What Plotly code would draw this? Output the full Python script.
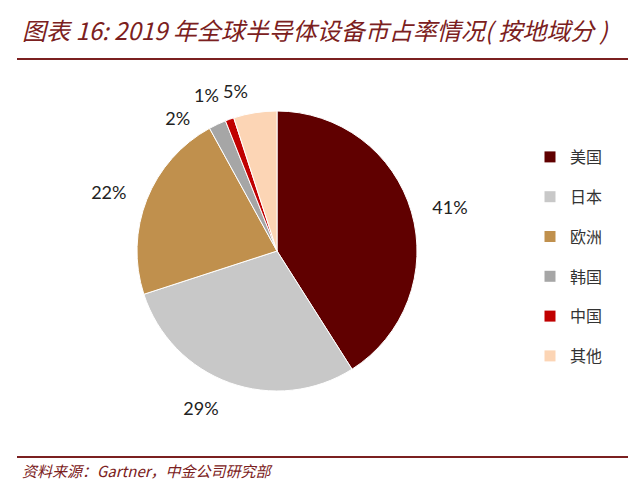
import plotly.graph_objects as go

regions = ["美国", "日本", "欧洲", "韩国", "中国", "其他"]
shares = [41, 29, 22, 2, 1, 5]
colors = ["#600000", "#c8c8c8", "#c0904d", "#a6a6a6", "#c00000", "#fcd5b5"]

title_text = "图表 16: 2019 年全球半导体设备市占率情况( 按地域分 )"
source_text = "资料来源：Gartner，中金公司研究部"
dark_red = "#7b2020"

# page body has an 8px margin, so the figure is drawn 8px smaller and shifted
W, H, OFF = 632, 475, 8


def px(x):
    return (x - OFF) / W


def py(y):
    return 1 - (y - OFF) / H


cx, cy, r = 277, 251, 140

# radius of the invisible pie carrying each label (keeps small labels apart)
label_radius = [156, 156, 156, 137, 155, 151]
label_pad = ["", "", "", "\u00a0" * 5, "", ""]

fig = go.Figure()

fig.add_trace(go.Pie(
    labels=regions,
    values=shares,
    sort=False,
    direction="clockwise",
    rotation=0,
    marker=dict(colors=colors, line=dict(color="white", width=1)),
    textinfo="none",
    domain=dict(x=[px(cx - r), px(cx + r)], y=[py(cy + r), py(cy - r)]),
    showlegend=False,
    hoverinfo="label+percent",
))

# transparent copies of the pie that only carry the percent labels
for rl in sorted(set(label_radius)):
    fig.add_trace(go.Pie(
        labels=regions,
        values=shares,
        sort=False,
        direction="clockwise",
        rotation=0,
        marker=dict(colors=["rgba(0,0,0,0)"] * len(regions), line=dict(width=0)),
        texttemplate=["%{value}%" + p for p in label_pad],
        textposition=["outside" if q == rl else "none" for q in label_radius],
        textfont=dict(family="Lato, Noto Sans", size=18, color="#222222"),
        domain=dict(x=[px(cx - rl), px(cx + rl)], y=[py(cy + rl), py(cy - rl)]),
        showlegend=False,
        hoverinfo="skip",
    ))

# legend entries as dummy markers so the spacing can be widened
for name, c in zip(regions, colors):
    fig.add_trace(go.Scatter(
        x=[None], y=[None], mode="markers", name=name, legendgroup=name,
        marker=dict(symbol="square", size=11, color=c),
    ))

fig.update_layout(
    width=W, height=H, autosize=False,
    margin=dict(l=0, r=0, t=0, b=0),
    paper_bgcolor="white", plot_bgcolor="white",
    xaxis=dict(visible=False), yaxis=dict(visible=False),
    legend=dict(
        x=px(530), y=py(140), xanchor="left", yanchor="top",
        font=dict(family="Noto Sans CJK SC", size=16, color="#333333"),
        tracegroupgap=16, itemwidth=30,
    ),
    shapes=[
        dict(type="line", xref="paper", yref="paper", x0=px(17), x1=px(628),
             y0=py(59), y1=py(59), line=dict(color=dark_red, width=2)),
        dict(type="line", xref="paper", yref="paper", x0=px(17), x1=px(628),
             y0=py(457), y1=py(457), line=dict(color=dark_red, width=2)),
    ],
    annotations=[
        dict(text="<i>" + title_text + "</i>", x=px(20), y=py(30),
             xref="paper", yref="paper", xanchor="left", yanchor="middle",
             showarrow=False,
             font=dict(family="Noto Sans CJK SC", size=24, color=dark_red)),
        dict(text="<i>" + source_text + "</i>", x=px(20), y=py(470),
             xref="paper", yref="paper", xanchor="left", yanchor="middle",
             showarrow=False,
             font=dict(family="Noto Sans CJK SC", size=15, color=dark_red)),
    ],
)

# drop any leader lines plotly draws for nudged outside labels
fig.write_html(
    "out.html",
    post_script="document.querySelectorAll('path.textline').forEach(function(e){e.remove();});",
)
